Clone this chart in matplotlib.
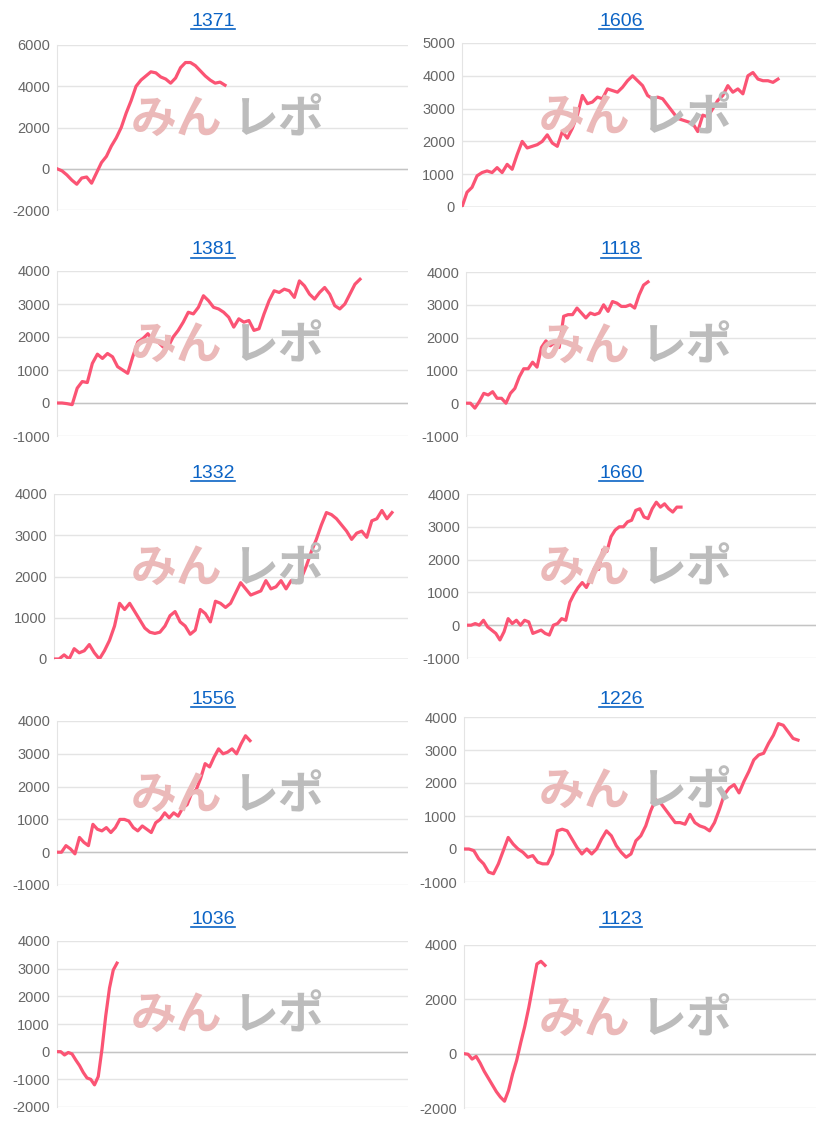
import numpy as np
import matplotlib
matplotlib.use("Agg")
import matplotlib.pyplot as plt
from matplotlib.lines import Line2D

plt.rcParams['font.family'] = ['Liberation Sans', 'Noto Sans CJK JP', 'DejaVu Sans']
plt.rcParams['axes.unicode_minus'] = False

W, H = 816, 1125
LINE = "#fb5474"

# --- data (cumulative values per panel) ---
names = ["1371", "1606", "1381", "1118", "1332", "1660", "1556", "1226", "1036", "1123"]

v1371 = [0, -100, -300, -550, -750, -450, -400, -700, -200, 300, 600, 1100, 1500, 2000, 2700,
         3300, 4000, 4300, 4500, 4700, 4650, 4450, 4350, 4150, 4400, 4900, 5150, 5150, 5000,
         4750, 4500, 4300, 4150, 4200, 4050]
v1606 = [0, 450, 600, 950, 1050, 1100, 1050, 1200, 1050, 1300, 1150, 1600, 2000, 1800, 1850,
         1900, 2000, 2200, 1950, 1850, 2300, 2100, 2400, 2800, 3400, 3150, 3200, 3350, 3300,
         3600, 3550, 3500, 3650, 3850, 4000, 3850, 3700, 3400, 3300, 3350, 3300, 3100, 2900,
         2700, 2650, 2600, 2550, 2300, 2800, 2750, 3000, 3250, 3400, 3700, 3500, 3600, 3450,
         4000, 4100, 3900, 3850, 3850, 3800, 3900]
v1381 = [0, 0, -20, -50, 450, 650, 620, 1200, 1480, 1350, 1500, 1400, 1100, 1000, 900, 1400,
         1850, 1950, 2100, 1900, 1850, 1700, 1700, 2000, 2200, 2450, 2750, 2700, 2900, 3250,
         3100, 2900, 2850, 2750, 2600, 2300, 2550, 2450, 2500, 2200, 2250, 2700, 3100, 3400,
         3350, 3450, 3400, 3200, 3700, 3550, 3300, 3150, 3350, 3500, 3300, 2950, 2850, 3000,
         3300, 3600, 3750]
v1118 = [0, 0, -150, 50, 300, 250, 350, 150, 150, 0, 300, 450, 800, 1050, 1050, 1250, 1100,
         1700, 1900, 1750, 1850, 1700, 2650, 2700, 2700, 2900, 2750, 2600, 2750, 2700, 2750,
         3000, 2800, 3100, 3050, 2950, 2950, 3000, 2900, 3300, 3600, 3700]
v1332 = [0, 0, 100, 0, 250, 150, 200, 350, 150, 0, 200, 450, 800, 1350, 1200, 1350, 1150, 950,
         750, 650, 620, 650, 800, 1050, 1150, 900, 800, 600, 700, 1200, 1100, 900, 1400, 1350,
         1250, 1350, 1600, 1850, 1700, 1550, 1600, 1650, 1900, 1700, 1750, 1900, 1700, 1900,
         1850, 1950, 2250, 2600, 2900, 3250, 3550, 3500, 3400, 3250, 3100, 2900, 3050, 3100,
         2950, 3350, 3400, 3600, 3400, 3550]
v1660 = [0, 0, 50, 0, 150, -50, -150, -250, -450, -200, 200, 50, 150, 0, 150, 100, -250, -200,
         -150, -250, -300, 0, 50, 200, 150, 700, 950, 1150, 1300, 1150, 1400, 1750, 1700, 2300,
         2250, 2700, 2900, 3000, 3000, 3150, 3200, 3500, 3550, 3300, 3250, 3550, 3750, 3600,
         3700, 3550, 3450, 3600, 3600]
v1556 = [0, 0, 200, 100, -50, 450, 300, 200, 850, 700, 650, 750, 600, 750, 1000, 1000, 950,
         750, 650, 800, 700, 600, 900, 1000, 1200, 1050, 1200, 1100, 1350, 1450, 1800, 1900,
         2250, 2700, 2600, 2900, 3150, 3000, 3050, 3150, 3000, 3300, 3550, 3400]
v1226 = [0, 0, -50, -300, -450, -700, -750, -450, -50, 350, 150, 0, -100, -250, -200, -400,
         -450, -450, -150, 550, 600, 550, 300, 50, -150, 0, -150, 0, 300, 550, 400, 100, -100,
         -250, -150, 250, 400, 700, 1150, 1500, 1400, 1200, 1000, 800, 800, 750, 1050, 800, 700,
         650, 550, 800, 1200, 1650, 1850, 1950, 1700, 2050, 2350, 2700, 2850, 2900, 3200, 3450,
         3800, 3750, 3550, 3350, 3300]
v1036 = [0, 0, -120, -30, -80, -300, -500, -750, -950, -1000, -1200, -900, 100, 1300, 2300,
         2950, 3200]
v1123 = [0, -20, -200, -100, -350, -650, -900, -1150, -1400, -1600, -1750, -1350, -750, -250,
         400, 1000, 1700, 2500, 3300, 3400, 3250]
series = [v1371, v1606, v1381, v1118, v1332, v1660, v1556, v1226, v1036, v1123]

yticks = [
    [-2000, 0, 2000, 4000, 6000],
    [0, 1000, 2000, 3000, 4000, 5000],
    [-1000, 0, 1000, 2000, 3000, 4000],
    [-1000, 0, 1000, 2000, 3000, 4000],
    [0, 1000, 2000, 3000, 4000],
    [-1000, 0, 1000, 2000, 3000, 4000],
    [-1000, 0, 1000, 2000, 3000, 4000],
    [-1000, 0, 1000, 2000, 3000, 4000],
    [-2000, -1000, 0, 1000, 2000, 3000, 4000],
    [-2000, 0, 2000, 4000],
]

# --- layout in pixels: axes (left, top, right, bottom), data end x, title y ---
boxes = [(57, 45, 408, 210), (462, 43, 816, 207),
         (57, 271, 408, 436), (466, 272, 816, 436),
         (54, 494, 408, 659), (467, 494, 816, 658),
         (57, 721, 408, 885), (464, 717, 816, 882),
         (57, 941, 408, 1107), (464, 945, 816, 1108)]
ends = [225, 778, 360, 648, 392, 681, 250, 798, 117, 545]
title_y = [21, 21, 250, 250, 473, 473, 699, 699, 919, 919]

fig = plt.figure(figsize=(W / 100, H / 100), dpi=100)

for i in range(10):
    l, t, r, b = boxes[i]
    ax = fig.add_axes([l / W, 1 - b / H, (r - l) / W, (b - t) / H])
    ys = series[i]
    n = len(ys) - 1
    slots = n * (r - l) / (ends[i] - l)
    ax.plot(np.arange(len(ys)), ys, color=LINE, lw=2.3, solid_joinstyle='round', zorder=3)
    ax.set_xlim(0, slots)
    ax.set_ylim(yticks[i][0], yticks[i][-1])
    ax.set_yticks(yticks[i])
    ax.set_xticks([])
    ax.grid(axis='y', color='#e4e4e4', lw=1)
    ax.axhline(0, color='#c4c4c4', lw=1, zorder=2)
    for s in ['top', 'right', 'bottom']:
        ax.spines[s].set_visible(False)
    ax.spines['left'].set_color('#e4e4e4')
    ax.tick_params(axis='y', length=0, pad=5, labelsize=10.5, labelcolor='#666666')

    # title (blue, underlined)
    cx = 621 if i % 2 else 213
    fig.text(cx / W, 1 - title_y[i] / H, names[i], ha='center', va='center',
             color='#0b63c5', fontsize=14)

    # watermark
    px = 0 if i % 2 == 0 else 408
    wy = 1 - (t + 75) / H
    fig.text((px + 131) / W, wy, "みん", color='#ebb9b9', fontsize=33, fontweight='bold',
             va='center', ha='left', zorder=1, family=['Noto Sans CJK JP'])
    fig.text((px + 232) / W, wy, "レポ", color='#bcbcbc', fontsize=33, fontweight='bold',
             va='center', ha='left', zorder=1, family=['Noto Sans CJK JP'])

fig.canvas.draw()
rend = fig.canvas.get_renderer()
for txt in fig.texts:
    if txt.get_text() in names:
        bb = txt.get_window_extent(rend)
        y = (bb.y0 + 1) / H
        fig.add_artist(Line2D([bb.x0 / W, bb.x1 / W], [y, y], color='#0b63c5', lw=1.2))

fig.savefig("out.png", dpi=100)
